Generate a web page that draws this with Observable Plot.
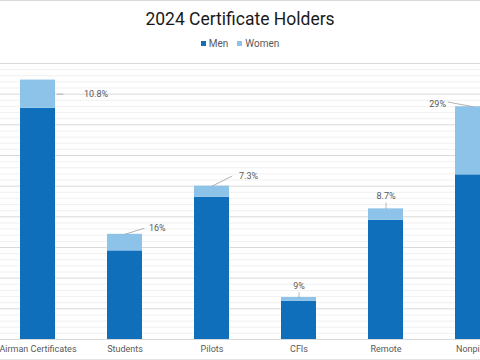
<!DOCTYPE html>
<html>
<head>
<meta charset="utf-8">
<script src="https://cdn.jsdelivr.net/npm/d3@7"></script>
<script src="https://cdn.jsdelivr.net/npm/@observablehq/plot@0.6"></script>
<style>
  html, body { margin: 0; padding: 0; background: #fff; overflow: hidden; }
  #chart { width: 480px; height: 360px; box-sizing: border-box; border-top: 1px solid #d9d9d9; border-bottom: 1px solid #e3e3e3; overflow: hidden; font-family: Roboto, "Open Sans", sans-serif; }
  #title { height: 31px; line-height: 36px; text-align: center; font-size: 17.5px; color: #1a1a1a; font-family: Roboto, sans-serif; }
  #legend { height: 20px; display: flex; justify-content: center; align-items: center; gap: 9px; font-size: 10px; color: #595959; padding-top: 1px; }
  #legend span.sw { display: inline-block; width: 5px; height: 5px; margin-right: 3px; vertical-align: middle; }
  #legend .item { display: flex; align-items: center; }
</style>
</head>
<body>
<div id="chart">
  <div id="title">2024 Certificate Holders</div>
  <div id="legend"></div>
  <div id="plot"></div>
</div>
<script>
// ---- data ----
const categories = ["Airman Certificates", "Students", "Pilots", "CFIs", "Remote", "Nonpilot"];
const men   = [754, 289, 464, 125, 389, 537];   // thousands
const women = [92,  54,  36,  12,  37,  222];   // thousands
const pctLabels = ["10.8%", "16%", "7.3%", "9%", "8.7%", "29%"];
const series = ["Men", "Women"];
const colors = ["#0F6FBA", "#8DC3E8"];
const gridMinor = d3.range(20, 901, 20).filter(v => v % 100 !== 0);
const gridMajor = d3.range(0, 901, 100);

// ---- legend ----
const legend = document.getElementById("legend");
series.forEach((s, i) => {
  const it = document.createElement("div");
  it.className = "item";
  it.innerHTML = `<span class="sw" style="background:${colors[i]}"></span>${s}`;
  legend.appendChild(it);
});

// ---- table ----
const rows = categories.flatMap((c, i) => [
  {cat: c, sex: "Men", value: men[i]},
  {cat: c, sex: "Women", value: women[i]}
]);
const labelRows = categories.map((c, i) => ({
  cat: c, text: pctLabels[i],
  total: men[i] + women[i],
  mid: men[i] + women[i] / 2
}));

// leader-line / label styling (pixels, per label)
const leaderStyle = [
  {at: "mid", dx: 19, len: 6,    rot: 90,    tx: 27,  ty: 0,    anchor: "start"},
  {at: "total", dx: 0, len: 20,  rot: 72.5,  tx: 24,  ty: -6,   anchor: "start"},
  {at: "total", dx: 0, len: 22.4, rot: 63.4, tx: 27,  ty: -10,  anchor: "start"},
  {at: "total", dx: 0, len: 5,   rot: 0,     tx: 0,   ty: -11.5,anchor: "middle"},
  {at: "total", dx: 0, len: 6,   rot: 0,     tx: 0,   ty: -12.5,anchor: "middle"},
  {at: "total", dx: 0, len: 25.4, rot: -79.4, tx: -27, ty: -3,  anchor: "end"}
];
const lineShape = {draw(ctx, l) { ctx.moveTo(0, 0); ctx.lineTo(0, -l); }};

const labelMarks = labelRows.flatMap((r, i) => {
  const s = leaderStyle[i];
  return [
    Plot.vector([r], {x: "cat", y: s.at, dx: s.dx, length: s.len, rotate: s.rot, anchor: "start",
      shape: lineShape, stroke: "#a6a6a6", strokeWidth: 0.8}),
    Plot.text([r], {x: "cat", y: s.at, text: "text", dx: s.dx + s.tx, dy: s.ty, textAnchor: s.anchor,
      fill: "#595959", fontSize: 9})
  ];
});

const plot = Plot.plot({
  width: 480,
  height: 307,
  marginLeft: 0,
  marginRight: 0,
  marginTop: 10,
  marginBottom: 21,
  style: {fontFamily: "Roboto, 'Open Sans', sans-serif", background: "transparent"},
  x: {domain: categories, range: [-34, 544], padding: 0.6, label: null},
  y: {domain: [0, 900], axis: null},
  color: {domain: series, range: colors},
  marks: [
    Plot.ruleY(gridMinor, {stroke: "#f0f0f0", strokeWidth: 1}),
    Plot.ruleY(gridMajor, {stroke: "#d9d9d9", strokeWidth: 1}),
    Plot.barY(rows, {x: "cat", y: "value", fill: "sex"}),
    Plot.axisX({tickSize: 0, tickPadding: 6, fontSize: 9, fill: "#595959", label: null}),
    ...labelMarks
  ]
});
document.getElementById("plot").appendChild(plot);
</script>
</body>
</html>
